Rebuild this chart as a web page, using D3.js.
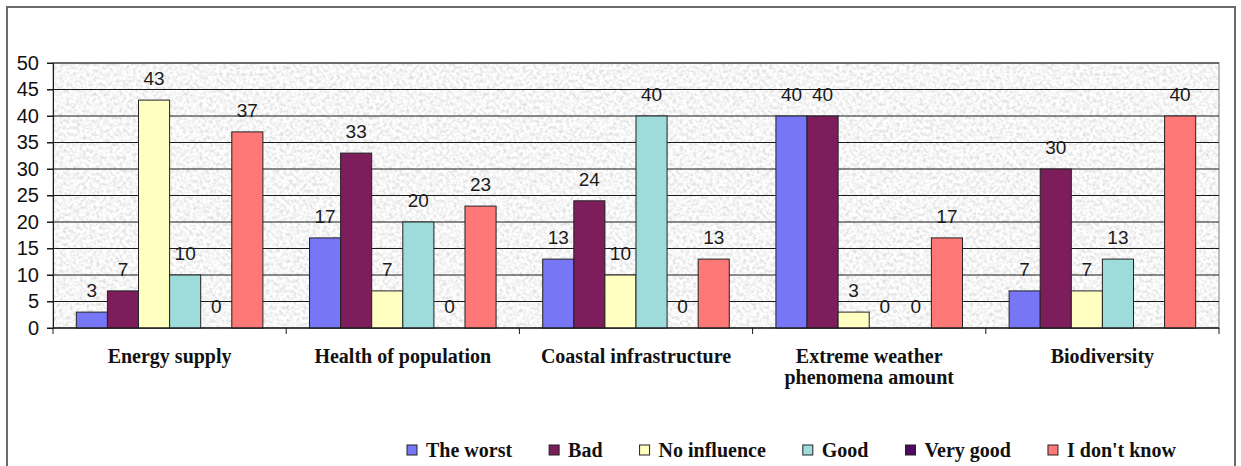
<!DOCTYPE html>
<html>
<head>
<meta charset="utf-8">
<script src="https://cdn.jsdelivr.net/npm/d3@7"></script>
<style>
    body { margin: 0; background: #fff; }
</style>
</head>
<body>
<script>
// dữ liệu
const categories = ["Energy supply", "Health of population", "Coastal infrastructure", "Extreme weather\nphenomena amount", "Biodiversity"]
const seriesNames = ["The worst", "Bad", "No influence", "Good", "Very good", "I don't know"]
const theWorst = [3, 17, 13, 40, 7]
const bad = [7, 33, 24, 40, 30]
const noInfluence = [43, 7, 10, 3, 7]
const good = [10, 20, 40, 0, 13]
const veryGood = [0, 0, 0, 0, null]
const dontKnow = [37, 23, 13, 17, 40]
const yTicks = [0, 5, 10, 15, 20, 25, 30, 35, 40, 45, 50]

const seriesValues = [theWorst, bad, noInfluence, good, veryGood, dontKnow]
const colors = ["#7676f6", "#7e1d5c", "#ffffc2", "#9edcdc", "#4e0a5e", "#ff7878"]

const W = 1241, H = 466
const plotL = 53, plotR = 1219, plotT = 63, plotB = 328

const svg = d3.select("body").append("svg").attr("width", W).attr("height", H)

// nền đá granite cho vùng vẽ
const defs = svg.append("defs")
const f = defs.append("filter").attr("id", "granite")
    .attr("x", 0).attr("y", 0).attr("width", "100%").attr("height", "100%")
f.append("feTurbulence").attr("type", "fractalNoise").attr("baseFrequency", 0.3)
    .attr("numOctaves", 4).attr("seed", 7)
f.append("feColorMatrix").attr("type", "matrix")
    .attr("values", "0.6 0 0 0 0.62  0.6 0 0 0 0.62  0.6 0 0 0 0.62  0 0 0 0 1")

// khung ngoài
svg.append("rect").attr("x", 7).attr("y", 7).attr("width", 1228).attr("height", 520)
    .attr("fill", "#fff").attr("stroke", "#6a6a6a").attr("stroke-width", 2)

const x0 = d3.scaleBand().domain(categories).range([plotL, plotR])
const x1 = d3.scaleBand().domain(seriesNames).range([0, x0.bandwidth()]).paddingOuter(0.75)
const y = d3.scaleLinear().domain([0, 50]).range([plotB, plotT])

svg.append("rect").attr("x", plotL).attr("y", plotT)
    .attr("width", plotR - plotL).attr("height", plotB - plotT)
    .attr("filter", "url(#granite)")
svg.append("rect").attr("x", plotL).attr("y", plotT)
    .attr("width", plotR - plotL).attr("height", plotB - plotT)
    .attr("fill", "none").attr("stroke", "#808080")

// lưới ngang
svg.append("g").selectAll("line").data(yTicks).join("line")
    .attr("x1", plotL - 6).attr("x2", plotR)
    .attr("y1", d => y(d)).attr("y2", d => y(d))
    .attr("stroke", "#1a1a1a").attr("stroke-width", 1)

// trục y
const yAxis = svg.append("g").attr("transform", `translate(${plotL},0)`)
    .call(d3.axisLeft(y).tickValues(yTicks).tickSize(6).tickPadding(8))
yAxis.select(".domain").attr("stroke", "#1a1a1a")
yAxis.selectAll("line").attr("stroke", "#1a1a1a")
yAxis.selectAll("text").attr("font-family", "Liberation Sans, Arial, sans-serif")
    .attr("font-size", 20).attr("fill", "#111")

// cột
const groups = svg.append("g").selectAll("g").data(categories).join("g")
    .attr("transform", d => `translate(${x0(d)},0)`)

seriesNames.forEach((s, si) => {
    const vals = categories.map((c, ci) => ({c: c, v: seriesValues[si][ci]}))
    groups.data(vals).append("rect")
        .filter(d => d.v !== null && d.v > 0)
        .attr("x", x1(s)).attr("width", x1.bandwidth())
        .attr("y", d => y(d.v)).attr("height", d => y(0) - y(d.v))
        .attr("fill", colors[si]).attr("stroke", "#222").attr("stroke-width", 1)
})

seriesNames.forEach((s, si) => {
    const vals = categories.map((c, ci) => ({c: c, v: seriesValues[si][ci]}))
    groups.data(vals).append("text")
        .filter(d => d.v !== null)
        .attr("x", x1(s) + x1.bandwidth() / 2).attr("y", d => y(d.v) - 15)
        .attr("text-anchor", "middle")
        .attr("font-family", "Liberation Sans, Arial, sans-serif")
        .attr("font-size", 19).attr("fill", "#1a1a1a")
        .text(d => d.v)
})

// trục x
svg.append("line").attr("x1", plotL).attr("x2", plotR).attr("y1", plotB).attr("y2", plotB)
    .attr("stroke", "#1a1a1a")
svg.append("g").selectAll("line").data(categories.concat(["end"])).join("line")
    .attr("x1", d => d === "end" ? plotR : x0(d)).attr("x2", d => d === "end" ? plotR : x0(d))
    .attr("y1", plotB).attr("y2", plotB + 6).attr("stroke", "#1a1a1a")

svg.append("g").selectAll("text").data(categories).join("text")
    .attr("x", d => x0(d) + x0.bandwidth() / 2).attr("y", 363)
    .attr("text-anchor", "middle")
    .attr("font-family", "Liberation Serif, Times New Roman, serif")
    .attr("font-size", 20).attr("font-weight", "bold").attr("fill", "#111")
    .each(function (d) {
        const t = d3.select(this)
        d.split("\n").forEach((line, i) => {
            t.append("tspan").attr("x", x0(d) + x0.bandwidth() / 2).attr("dy", i ? 21 : 0).text(line)
        })
    })

// chú thích
const legend = svg.append("g")
let lx = 407
seriesNames.forEach((s, si) => {
    legend.append("rect").attr("x", lx).attr("y", 445).attr("width", 10).attr("height", 10)
        .attr("fill", colors[si]).attr("stroke", "#222").attr("stroke-width", 1)
    const t = legend.append("text").attr("x", lx + 19).attr("y", 457)
        .attr("font-family", "Liberation Serif, Times New Roman, serif")
        .attr("font-size", 20).attr("font-weight", "bold").attr("fill", "#111")
        .text(s)
    lx += 19 + t.node().getComputedTextLength() + 37
})
</script>
</body>
</html>
